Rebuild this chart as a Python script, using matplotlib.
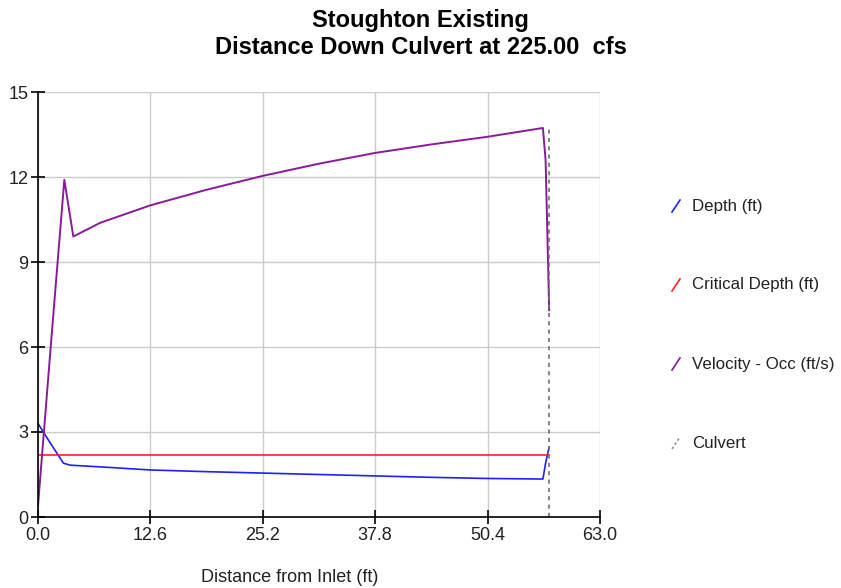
import matplotlib
matplotlib.use("Agg")
import matplotlib.pyplot as plt
from matplotlib.lines import Line2D

plt.rcParams['font.family'] = ['Liberation Sans', 'DejaVu Sans']

# Data
vel_x = [0.0, 1.5, 2.95, 3.96, 6.95, 12.6, 18.9, 25.2, 31.5, 37.8, 44.1, 50.4, 56.6, 56.9, 57.1, 57.3]
vel_y = [0.4, 6.3, 11.9, 9.9, 10.38, 11.0, 11.55, 12.04, 12.47, 12.85, 13.15, 13.42, 13.73, 12.6, 10.0, 7.3]

depth_x = [0.0, 1.4, 2.85, 3.6, 8.0, 12.6, 18.9, 25.2, 31.5, 37.8, 44.1, 50.4, 56.6, 56.9, 57.3]
depth_y = [3.3, 2.6, 1.9, 1.83, 1.75, 1.66, 1.6, 1.55, 1.5, 1.45, 1.4, 1.36, 1.34, 1.9, 2.47]

crit_x = [0.0, 57.3]
crit_y = [2.2, 2.2]

culvert_x = [57.3, 57.3]
culvert_y = [0.0, 13.75]

xticks = [0.0, 12.6, 25.2, 37.8, 50.4, 63.0]
yticks = [0, 3, 6, 9, 12, 15]

labels = ["Depth (ft)", "Critical Depth (ft)", "Velocity - Occ (ft/s)", "Culvert"]
colors = ["#1f1fff", "#ff2020", "#8b1a9b", "#909090"]

fig = plt.figure(figsize=(8.41, 5.88), dpi=100)
ax = fig.add_axes([38/841, 1-517/588, (600-38)/841, (517-92)/588])

ax.plot(depth_x, depth_y, color=colors[0], lw=1.2)
ax.plot(crit_x, crit_y, color=colors[1], lw=1.2)
ax.plot(vel_x, vel_y, color=colors[2], lw=1.4)
ax.plot(culvert_x, culvert_y, color="#707070", lw=1.2, ls=(0, (2.5, 2.5)))

ax.set_xlim(0, 63)
ax.set_ylim(0, 15)
ax.set_xticks(xticks)
ax.set_xticklabels([f"{v:.1f}" for v in xticks])
ax.set_yticks(yticks)
ax.set_yticklabels([str(v) for v in yticks])
ax.grid(True, color="#cccccc", lw=1)
ax.set_axisbelow(True)
for s in ["top", "right"]:
    ax.spines[s].set_visible(False)
for s in ["left", "bottom"]:
    ax.spines[s].set_color("black")
    ax.spines[s].set_linewidth(1.2)
ax.tick_params(direction='inout', length=10, width=1.2, labelsize=13, colors='black', labelcolor='#222222', pad=2)

fig.text(0.5, 1-20/588, "Stoughton Existing", ha='center', va='center', fontsize=17, fontweight='bold')
fig.text(0.5, 1-48/588, "Distance Down Culvert at 225.00  cfs", ha='center', va='center', fontsize=17, fontweight='bold')
fig.text(290/841, 1-577/588, "Distance from Inlet (ft)", ha='center', va='center', fontsize=13, color='#222222')

ys = [206, 285, 364, 443]
for lab, c, yp in zip(labels, colors, ys):
    yf = 1 - yp/588
    ls = '-' if lab != "Culvert" else (0, (1.5, 1.5))
    fig.add_artist(Line2D([672/841, 680/841], [yf-6/588, yf+6/588], color=c, lw=1.2, ls=ls))
    fig.text(692/841, yf, lab, ha='left', va='center', fontsize=12.2, color='#222222')

fig.savefig("out.png", dpi=100)
